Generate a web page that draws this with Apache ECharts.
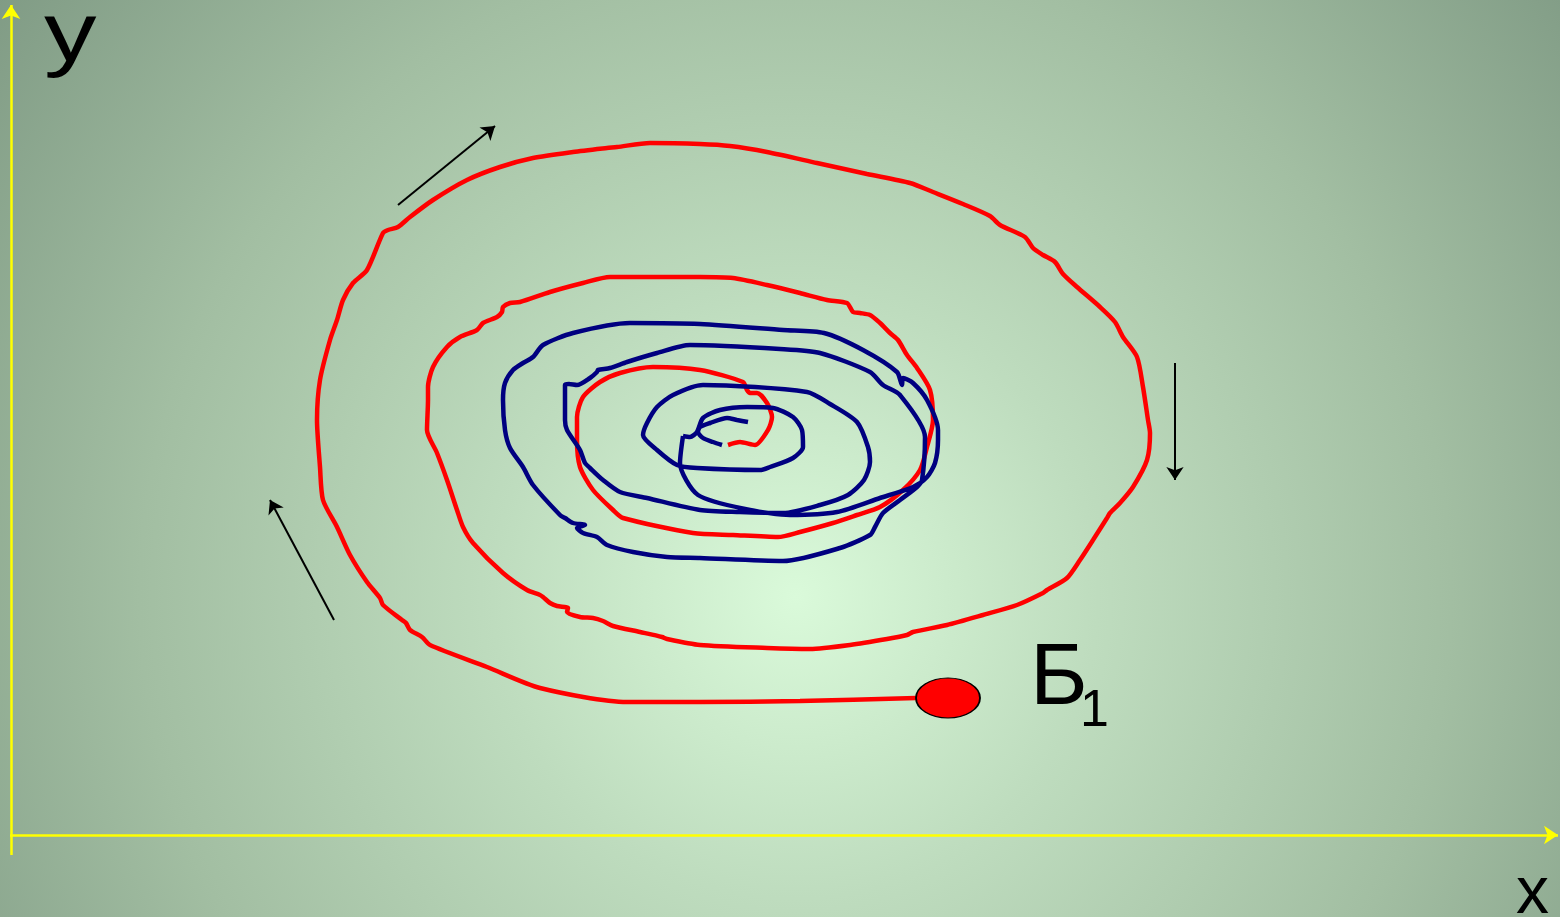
<!DOCTYPE html>
<html>
<head>
<meta charset="utf-8">
<script src="https://cdn.jsdelivr.net/npm/echarts@6/dist/echarts.min.js"></script>
<style>html,body{margin:0;padding:0;}#c{width:1560px;height:917px;}</style>
</head>
<body>
<div id="c"></div>
<script>
// Red trajectory: from the point Б1, spiralling inward (x, y in picture units, y downward)
const redPath = [
[916,698],[800,701],[700,702],[627,702],[540,688],[487,667],[430,645],[422,637],[410,630],[406,623],[402,620],
[383,605],[380,598],[367,582],[350,555],[337,527],[323,500],[320,467],[317,420],[320,380],[330,340],[337,320],
[343,300],[353,283],[367,270],[383,233],[388,230],[398,227],[410,217],[433,200],[467,180],[500,167],[533,158],
[573,152],[607,148],[617,147],[650,143],[700,144],[730,146],[767,152],[817,163],[867,174],[910,183],[933,192],
[963,204],[990,216],[1000,225],[1025,237],[1033,248],[1043,255],[1055,262],[1063,274],[1077,287],[1100,307],
[1115,322],[1123,337],[1137,357],[1143,387],[1148,420],[1150,433],[1147,460],[1133,487],[1120,503],[1110,513],
[1107,518],[1093,540],[1080,560],[1067,578],[1047,590],[1043,593],[1017,605],[983,615],[947,625],[913,632],
[907,635],[887,639],[850,645],[810,649],[767,648],[700,645],[667,639],[662,637],[640,632],[613,626],[603,621],
[593,618],[580,617],[567,612],[568,608],[557,606],[550,603],[543,597],[540,595],[527,590],[503,573],[473,543],
[463,527],[457,510],[447,480],[437,453],[427,430],[428,400],[428,387],[433,367],[447,347],[460,337],[477,330],
[483,323],[497,317],[502,312],[503,307],[510,303],[520,302],[550,292],[583,283],[610,277],[700,277],[733,278],
[767,285],[800,293],[827,300],[847,303],[853,312],[860,313],[870,315],[880,323],[890,333],[898,340],[907,355],
[917,368],[930,390],[933,420],[927,447],[920,470],[903,490],[880,507],[857,515],[833,523],[800,532],[778,537],
[733,535],[693,533],[623,518],[613,510],[593,490],[580,467],[577,440],[577,417],[583,397],[600,382],[620,373],
[653,367],[700,370],[743,382],[747,390],[750,393],[757,393],[767,403],[772,417],[768,430],[755,445],[740,442],[728,445]
];
// Blue trajectory: main stroke
const bluePath = [
[683,436],[690,437],[697,432],[703,418],[720,410],[747,407],[773,408],[793,417],[802,430],[803,447],[793,458],
[770,467],[760,470],[697,468],[677,465],[657,450],[643,435],[647,423],[657,407],[673,395],[703,385],[807,392],
[830,404],[857,422],[868,447],[870,462],[864,480],[848,495],[820,505],[783,513],[740,512],[700,510],[647,498],
[620,492],[603,480],[590,468],[585,463],[580,450],[567,430],[565,420],[565,385],[569,384],[577,385],[590,378],
[597,372],[598,370],[610,368],[627,362],[657,353],[690,345],[780,349],[820,353],[870,372],[883,385],[900,395],
[925,437],[922,480],[917,487],[900,500],[883,513],[875,527],[870,535],[840,548],[783,561],[700,558],[667,557],
[633,552],[607,545],[597,537],[583,533],[577,528],[585,525],[573,523],[565,518],[560,515],[533,485],[523,467],
[510,448],[505,430],[503,400],[505,383],[513,370],[523,363],[533,357],[543,345],[573,333],[630,323],[700,324],
[783,330],[824,333],[863,350],[897,372],[902,385],[903,378],[913,383],[927,400],[938,430],[938,440],[935,463],
[927,477],[913,487],[880,498],[837,512],[790,515],[750,510],[698,495],[680,463],[683,436]
];
// Blue trajectory: small inner hook
const blueHook = [[748,422],[737,420],[727,418],[710,423],[700,427],[698,432],[703,438],[713,442],[722,445]];
// Point Б1
const pointB1 = [[948,698]];
// Direction arrows [from, to]
const arrows = [
  [[398,205],[495,126]],
  [[334,620],[270,500]],
  [[1175,363],[1175,480]]
];
// Coordinate axes [from, to]
const axesLines = [
  [[11,855],[11,5]],
  [[10,835],[1558,835]]
];
const labels = ['у', 'х', 'Б', '1'];

const chart = echarts.init(document.getElementById('c'), null, {renderer: 'canvas'});
const bg = new echarts.graphic.RadialGradient(0.51, 0.65, 1.1, [
  {offset: 0, color: '#dafada'},
  {offset: 0.3, color: '#bedcbe'},
  {offset: 0.65, color: '#a2bea2'},
  {offset: 1, color: '#7f9a84'}
]);
const font = '"Liberation Sans", Arial, sans-serif';
chart.setOption({
  animation: false,
  backgroundColor: bg,
  grid: {left: 0, right: 0, top: 0, bottom: 0},
  xAxis: {type: 'value', min: 0, max: 1560, show: false},
  yAxis: {type: 'value', min: 0, max: 917, inverse: true, show: false},
  graphic: [
    {type: 'text', left: 44, top: -4, scaleX: 1.25, style: {text: labels[0], font: '84px ' + font, fill: '#000'}},
    {type: 'text', left: 1516, top: 862, style: {text: labels[1], font: '66px ' + font, fill: '#000'}},
    {type: 'text', left: 1030, top: 636, style: {text: labels[2], font: '88px ' + font, fill: '#000'}},
    {type: 'text', left: 1080, top: 686, style: {text: labels[3], font: '52px ' + font, fill: '#000'}}
  ],
  series: [
    {type: 'lines', coordinateSystem: 'cartesian2d', polyline: false, z: 1,
     symbol: ['none', 'arrow'], symbolSize: 14,
     lineStyle: {color: '#ffff00', width: 2.5, opacity: 1},
     data: axesLines.map(c => ({coords: c}))},
    {type: 'lines', coordinateSystem: 'cartesian2d', polyline: false, z: 2,
     symbol: ['none', 'arrow'], symbolSize: 13,
     lineStyle: {color: '#000', width: 2, opacity: 1},
     data: arrows.map(c => ({coords: c}))},
    {type: 'line', data: redPath, showSymbol: false, smooth: 0.25, z: 3,
     lineStyle: {color: '#ff0000', width: 4.5}},
    {type: 'line', data: bluePath, showSymbol: false, smooth: 0.25, z: 4,
     lineStyle: {color: '#000080', width: 4.5}},
    {type: 'line', data: blueHook, showSymbol: false, smooth: 0.25, z: 4,
     lineStyle: {color: '#000080', width: 4.5}},
    {type: 'scatter', data: pointB1, symbol: 'circle', symbolSize: [64, 40], z: 5,
     itemStyle: {color: '#ff0000', opacity: 1, borderColor: '#000', borderWidth: 1.5}}
  ]
});
</script>
</body>
</html>
